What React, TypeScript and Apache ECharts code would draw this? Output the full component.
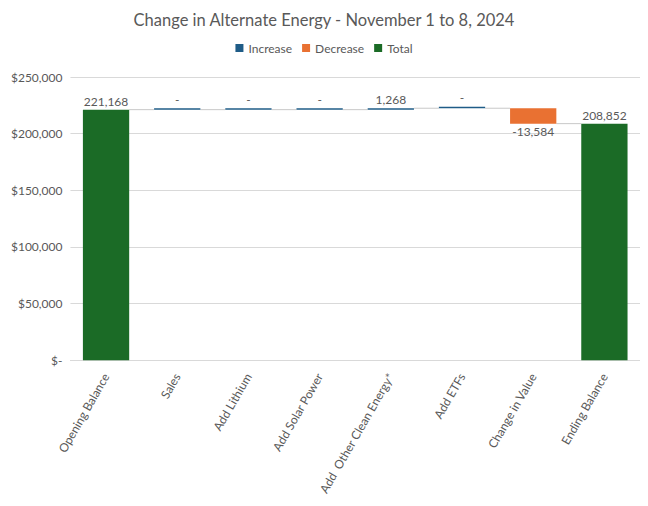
import React, { useEffect, useRef } from "react";
import * as echarts from "echarts";

const categories = [
  "Opening Balance",
  "Sales",
  "Add Lithium",
  "Add Solar Power",
  "Add  Other Clean Energy*",
  "Add ETFs",
  "Change in Value",
  "Ending Balance",
];
const openingBalance = 221168;
const changes = [0, 0, 0, 1268, 0, -13584]; // Sales .. Change in Value
const endingBalance = 208852;
const yTicks = [0, 50000, 100000, 150000, 200000, 250000];

const fmt = (v: number) => v.toLocaleString("en-US");

export default function App() {
  const ref = useRef<HTMLDivElement>(null);
  useEffect(() => {
    if (!ref.current) return;
    const chart = echarts.init(ref.current, undefined, { renderer: "svg" });

    const n = categories.length;
    const base: any[] = new Array(n).fill("-");
    const inc: any[] = new Array(n).fill("-");
    const dec: any[] = new Array(n).fill("-");
    const tot: any[] = new Array(n).fill("-");
    const levels: number[][] = [];
    tot[0] = openingBalance;
    let cum = openingBalance;
    levels.push([0, cum]);
    changes.forEach((c, k) => {
      const i = k + 1;
      if (c >= 0) {
        base[i] = cum;
        inc[i] = c;
        cum += c;
      } else {
        cum += c;
        base[i] = cum;
        dec[i] = -c;
      }
      levels.push([i, cum]);
    });
    tot[n - 1] = endingBalance;

    const font = "Lato, 'Open Sans', sans-serif";
    const grey = "#595959";

    chart.setOption({
      animation: false,
      textStyle: { fontFamily: font },
      title: {
        text: "Change in Alternate Energy - November 1 to 8, 2024",
        left: "center",
        top: -2,
        textStyle: { fontFamily: font, fontSize: 16.5, fontWeight: "normal", color: grey },
      },
      legend: {
        data: ["Increase", "Decrease", "Total"],
        top: 29,
        left: "center",
        icon: "rect",
        itemWidth: 8,
        itemHeight: 8,
        itemGap: 10,
        textStyle: { fontFamily: font, fontSize: 12, color: grey },
      },
      grid: { left: 57, right: 0, top: 69, bottom: 133, containLabel: false },
      xAxis: {
        type: "category",
        data: categories,
        axisTick: { show: false },
        axisLine: { lineStyle: { color: "#d9d9d9" } },
        axisLabel: {
          rotate: 60,
          interval: 0,
          color: grey,
          fontFamily: font,
          fontSize: 12,
          margin: 14,
        },
      },
      yAxis: {
        type: "value",
        min: 0,
        max: 250000,
        interval: 50000,
        axisLine: { show: false },
        axisTick: { show: false },
        splitLine: { lineStyle: { color: "#d9d9d9" } },
        axisLabel: {
          color: grey,
          fontFamily: font,
          fontSize: 12,
          margin: 8,
          customValues: yTicks,
          formatter: (v: number) => (v === 0 ? "$-" : "$" + fmt(v)),
        },
      },
      series: [
        {
          name: "base",
          type: "bar",
          stack: "w",
          data: base,
          itemStyle: { color: "transparent" },
          barCategoryGap: "35%",
          silent: true,
        },
        {
          name: "Increase",
          type: "bar",
          stack: "w",
          data: inc,
          barMinHeight: 1.5,
          itemStyle: { color: "#1F5C87" },
          label: {
            show: true,
            position: "top",
            distance: 3,
            color: grey,
            fontFamily: font,
            fontSize: 12,
            formatter: (p: any) => (p.value === 0 ? "-" : fmt(p.value)),
          },
        },
        {
          name: "Decrease",
          type: "bar",
          stack: "w",
          data: dec,
          itemStyle: { color: "#E97132" },
          label: {
            show: true,
            position: "bottom",
            distance: 2,
            color: grey,
            fontFamily: font,
            fontSize: 12,
            formatter: (p: any) => "-" + fmt(p.value),
          },
        },
        {
          name: "Total",
          type: "bar",
          stack: "w",
          data: tot,
          itemStyle: { color: "#1B6B26" },
          label: {
            show: true,
            position: "top",
            distance: 2,
            color: grey,
            fontFamily: font,
            fontSize: 12,
            formatter: (p: any) => fmt(p.value),
          },
        },
        {
          name: "connectors",
          type: "custom",
          silent: true,
          z: 1,
          data: levels.slice(0, n - 1),
          renderItem: (params: any, api: any) => {
            const i = api.value(0);
            const lvl = api.value(1);
            const p1 = api.coord([i, lvl]);
            const p2 = api.coord([i + 1, lvl]);
            const bw = api.size([1, 0])[0] * 0.65;
            return {
              type: "line",
              shape: { x1: p1[0] + bw / 2, y1: p1[1], x2: p2[0] - bw / 2, y2: p1[1] },
              style: { stroke: "#c8c8c8", lineWidth: 1 },
            };
          },
        },
      ],
    });
    return () => chart.dispose();
  }, []);
  return <div ref={ref} style={{ width: 632, height: 490 }} />;
}
